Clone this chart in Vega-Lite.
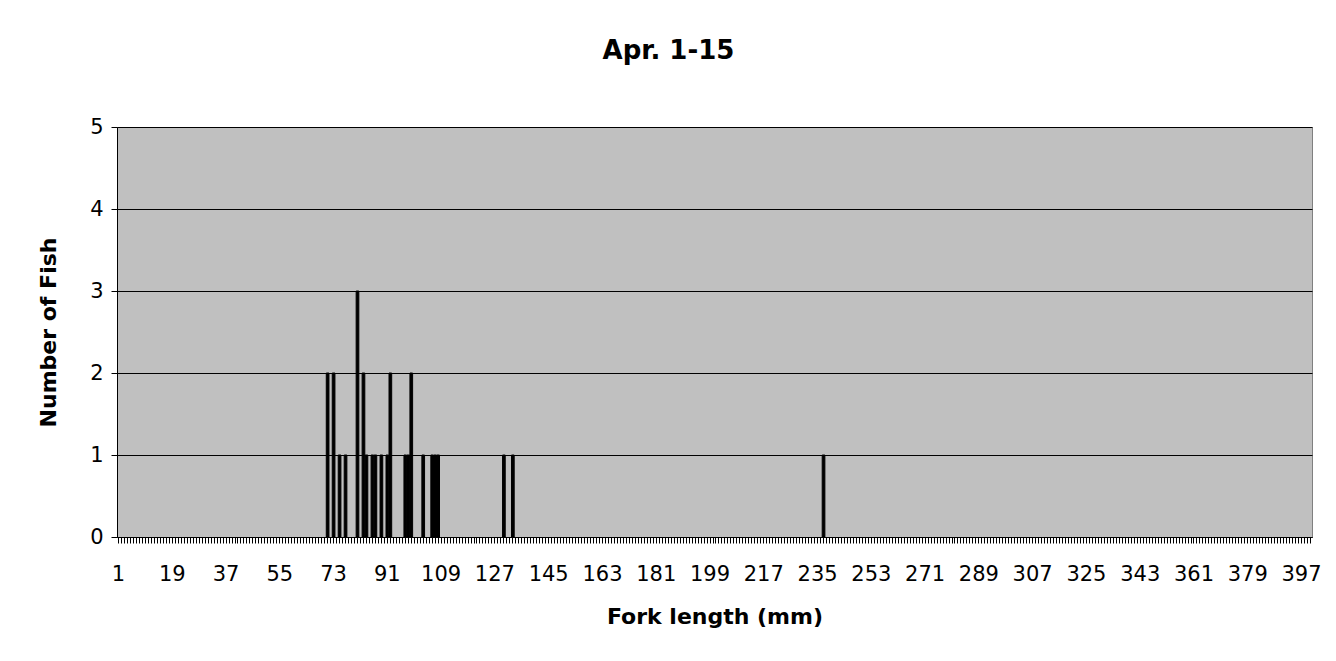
{
  "$schema": "https://vega.github.io/schema/vega-lite/v6.json",
  "width": 1195,
  "height": 410,
  "autosize": {"type": "none"},
  "padding": {"left": 117, "top": 127, "right": 24, "bottom": 124},
  "background": "white",
  "title": {
    "text": "Apr. 1-15",
    "font": "DejaVu Sans",
    "fontSize": 26,
    "fontWeight": "bold",
    "color": "black",
    "anchor": "middle",
    "dx": -46,
    "offset": 52
  },
  "data": {
    "values": [
      {"len": 71, "n": 2}, {"len": 73, "n": 2}, {"len": 75, "n": 1}, {"len": 77, "n": 1},
      {"len": 81, "n": 3}, {"len": 83, "n": 2}, {"len": 84, "n": 1}, {"len": 86, "n": 1},
      {"len": 87, "n": 1}, {"len": 89, "n": 1}, {"len": 91, "n": 1}, {"len": 92, "n": 2},
      {"len": 97, "n": 1}, {"len": 98, "n": 1}, {"len": 99, "n": 2}, {"len": 103, "n": 1},
      {"len": 106, "n": 1}, {"len": 107, "n": 1}, {"len": 108, "n": 1}, {"len": 130, "n": 1},
      {"len": 133, "n": 1}, {"len": 237, "n": 1}
    ]
  },
  "mark": {"type": "bar", "color": "black", "stroke": "black", "strokeWidth": 1},
  "encoding": {
    "x": {
      "field": "len",
      "type": "ordinal",
      "title": "Fork length (mm)",
      "scale": {
        "paddingInner": 0.1,
        "paddingOuter": 0.05,
        "domain": [1,2,3,4,5,6,7,8,9,10,11,12,13,14,15,16,17,18,19,20,21,22,23,24,25,26,27,28,29,30,31,32,33,34,35,36,37,38,39,40,41,42,43,44,45,46,47,48,49,50,51,52,53,54,55,56,57,58,59,60,61,62,63,64,65,66,67,68,69,70,71,72,73,74,75,76,77,78,79,80,81,82,83,84,85,86,87,88,89,90,91,92,93,94,95,96,97,98,99,100,101,102,103,104,105,106,107,108,109,110,111,112,113,114,115,116,117,118,119,120,121,122,123,124,125,126,127,128,129,130,131,132,133,134,135,136,137,138,139,140,141,142,143,144,145,146,147,148,149,150,151,152,153,154,155,156,157,158,159,160,161,162,163,164,165,166,167,168,169,170,171,172,173,174,175,176,177,178,179,180,181,182,183,184,185,186,187,188,189,190,191,192,193,194,195,196,197,198,199,200,201,202,203,204,205,206,207,208,209,210,211,212,213,214,215,216,217,218,219,220,221,222,223,224,225,226,227,228,229,230,231,232,233,234,235,236,237,238,239,240,241,242,243,244,245,246,247,248,249,250,251,252,253,254,255,256,257,258,259,260,261,262,263,264,265,266,267,268,269,270,271,272,273,274,275,276,277,278,279,280,281,282,283,284,285,286,287,288,289,290,291,292,293,294,295,296,297,298,299,300,301,302,303,304,305,306,307,308,309,310,311,312,313,314,315,316,317,318,319,320,321,322,323,324,325,326,327,328,329,330,331,332,333,334,335,336,337,338,339,340,341,342,343,344,345,346,347,348,349,350,351,352,353,354,355,356,357,358,359,360,361,362,363,364,365,366,367,368,369,370,371,372,373,374,375,376,377,378,379,380,381,382,383,384,385,386,387,388,389,390,391,392,393,394,395,396,397,398,399,400]
      },
      "axis": {
        "labelAngle": 0,
        "labelOverlap": false,
        "labelExpr": "(datum.value - 1) % 18 == 0 ? datum.label : ''",
        "labelFont": "DejaVu Sans",
        "labelFontSize": 21,
        "labelColor": "black",
        "labelPadding": 20,
        "tickSize": 6,
        "tickColor": "black",
        "tickWidth": 1,
        "domainColor": "black",
        "domainWidth": 1,
        "titleFont": "DejaVu Sans",
        "titleFontSize": 22,
        "titleFontWeight": "bold",
        "titleColor": "black",
        "titlePadding": 22,
        "grid": false
      }
    },
    "y": {
      "field": "n",
      "type": "quantitative",
      "title": "Number of Fish",
      "scale": {"domain": [0, 5], "nice": false},
      "axis": {
        "values": [0, 1, 2, 3, 4, 5],
        "labelFont": "DejaVu Sans",
        "labelFontSize": 21,
        "labelColor": "black",
        "labelPadding": 8,
        "tickSize": 6,
        "tickColor": "black",
        "domainColor": "black",
        "grid": true,
        "gridColor": "black",
        "gridOpacity": 1,
        "gridWidth": 1,
        "titleFont": "DejaVu Sans",
        "titleFontSize": 22,
        "titleFontWeight": "bold",
        "titleColor": "black",
        "titlePadding": 29
      }
    }
  },
  "config": {
    "view": {"fill": "#C0C0C0", "stroke": "#808080", "strokeWidth": 1}
  }
}
